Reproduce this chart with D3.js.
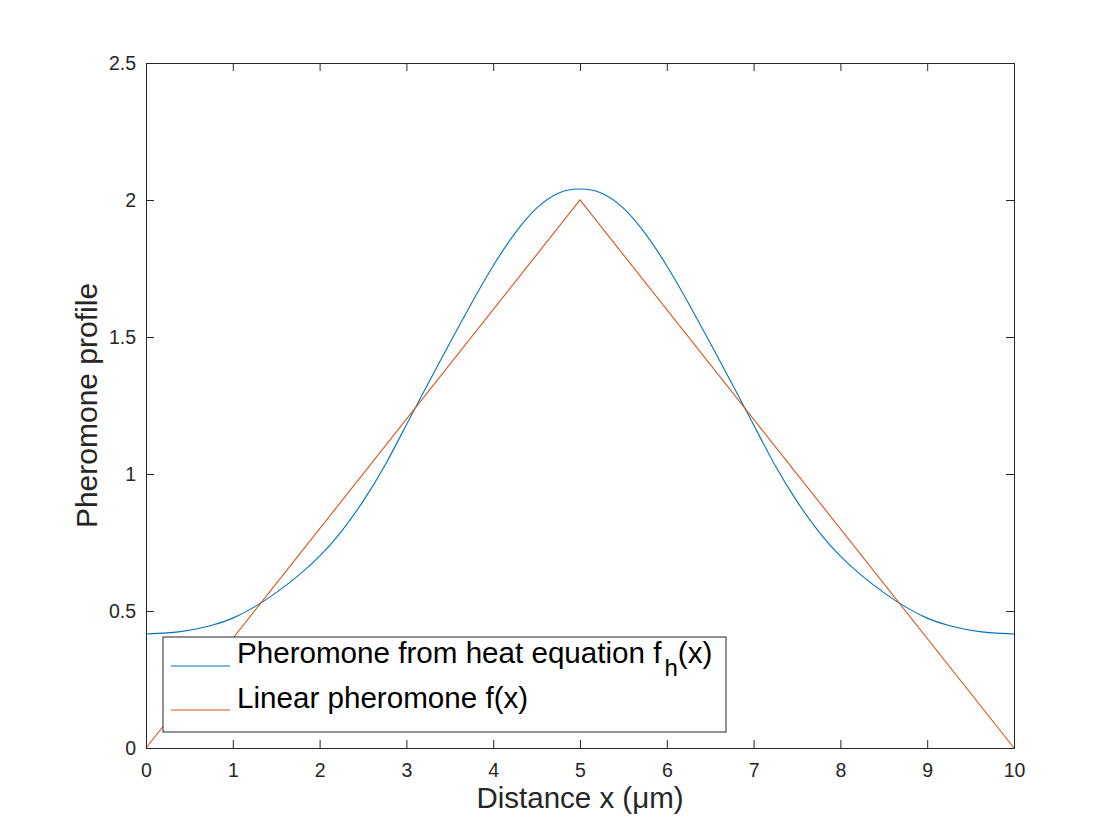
<!DOCTYPE html>
<html lang="en">
<head>
<meta charset="UTF-8">
<title>Pheromone profile</title>
<style>
  body { margin: 0; background: #fff; }
  svg { display: block; font-family: "Liberation Sans", Arial, Helvetica, sans-serif; }
  .axis path, .axis line { stroke: #262626; stroke-width: 1; }
  .axis text { fill: #262626; font-size: 19.5px; font-family: "Liberation Sans", Arial, sans-serif; }
</style>
</head>
<body>
<script src="https://cdn.jsdelivr.net/npm/d3@7"></script>
<script>
// values
var heatX = [0, 0.25, 0.5, 0.75, 1, 1.25, 1.5, 1.75, 2, 2.25, 2.5, 2.75, 3, 3.25, 3.5, 3.75, 4, 4.25, 4.5, 4.75, 5,
             5.25, 5.5, 5.75, 6, 6.25, 6.5, 6.75, 7, 7.25, 7.5, 7.75, 8, 8.25, 8.5, 8.75, 9, 9.25, 9.5, 9.75, 10];
var heatY = [0.416, 0.420, 0.430, 0.447, 0.474, 0.515, 0.567, 0.628, 0.700, 0.790, 0.900, 1.030, 1.180, 1.330, 1.478, 1.623, 1.760, 1.878, 1.970, 2.025, 2.040,
             2.025, 1.970, 1.878, 1.760, 1.623, 1.478, 1.330, 1.180, 1.030, 0.900, 0.790, 0.700, 0.628, 0.567, 0.515, 0.474, 0.447, 0.430, 0.420, 0.416];
var linearX = [0, 5, 10];
var linearY = [0, 2, 0];
var xTicks = [0, 1, 2, 3, 4, 5, 6, 7, 8, 9, 10];
var yTicks = [0, 0.5, 1, 1.5, 2, 2.5];

var width = 1120, height = 840,
    plotLeft = 146, plotRight = 1014, plotTop = 63, plotBottom = 748;

var svg = d3.select('body').append('svg')
    .attr('width', width)
    .attr('height', height);

var x = d3.scaleLinear().domain([0, 10]).range([plotLeft, plotRight]);
var y = d3.scaleLinear().domain([0, 2.5]).range([plotBottom, plotTop]);

var line = d3.line()
    .x(function(d) { return x(d[0]); })
    .y(function(d) { return y(d[1]); });

var heat = heatX.map(function(v, i) { return [v, heatY[i]]; });
var linear = linearX.map(function(v, i) { return [v, linearY[i]]; });

svg.append('path')
    .attr('d', line.curve(d3.curveNatural)(heat))
    .attr('fill', 'none')
    .attr('stroke', '#0072BD')
    .attr('stroke-width', 1.1);

svg.append('path')
    .attr('d', line.curve(d3.curveLinear)(linear))
    .attr('fill', 'none')
    .attr('stroke', '#D95319')
    .attr('stroke-width', 1.1);

// axes, ticks point inward on all four sides
svg.append('g').attr('class', 'axis')
    .attr('transform', 'translate(0,' + plotBottom + ')')
    .call(d3.axisBottom(x).tickValues(xTicks).tickSizeInner(-8).tickSizeOuter(0))
    .selectAll('text').attr('y', 29).attr('dy', 0);

svg.append('g').attr('class', 'axis')
    .attr('transform', 'translate(0,' + plotTop + ')')
    .call(d3.axisTop(x).tickValues(xTicks).tickSizeInner(-8).tickSizeOuter(0).tickFormat(''));

svg.append('g').attr('class', 'axis')
    .attr('transform', 'translate(' + plotLeft + ',0)')
    .call(d3.axisLeft(y).tickValues(yTicks).tickSizeInner(-8).tickSizeOuter(0).tickPadding(10)
      .tickFormat(function(d) { return String(d); }));

svg.append('g').attr('class', 'axis')
    .attr('transform', 'translate(' + plotRight + ',0)')
    .call(d3.axisRight(y).tickValues(yTicks).tickSizeInner(-8).tickSizeOuter(0).tickFormat(''));

svg.selectAll('.axis .domain').attr('fill', 'none');

// labels
svg.append('text')
    .attr('x', (plotLeft + plotRight) / 2)
    .attr('y', 808)
    .attr('text-anchor', 'middle')
    .attr('font-size', 29.5)
    .attr('fill', '#262626')
    .text('Distance x (μm)');

svg.append('text')
    .attr('transform', 'translate(97,' + ((plotTop + plotBottom) / 2) + ') rotate(-90)')
    .attr('text-anchor', 'middle')
    .attr('font-size', 30)
    .attr('fill', '#262626')
    .text('Pheromone profile');

// legend
var legend = svg.append('g');
legend.append('rect')
    .attr('x', 163).attr('y', 637)
    .attr('width', 563).attr('height', 95)
    .attr('fill', '#fff')
    .attr('stroke', '#262626')
    .attr('stroke-width', 1);

legend.append('line')
    .attr('x1', 171).attr('x2', 230).attr('y1', 666).attr('y2', 666)
    .attr('stroke', '#0072BD').attr('stroke-width', 1.1);
legend.append('line')
    .attr('x1', 171).attr('x2', 230).attr('y1', 710).attr('y2', 710)
    .attr('stroke', '#D95319').attr('stroke-width', 1.1);

var t1 = legend.append('text')
    .attr('x', 237).attr('y', 663)
    .attr('font-size', 29.6)
    .attr('fill', '#000');
t1.append('tspan').text('Pheromone from heat equation f');
t1.append('tspan').attr('font-size', 24).attr('dx', 3).attr('dy', 13).text('h');
t1.append('tspan').attr('dy', -13).text('(x)');

legend.append('text')
    .attr('x', 237).attr('y', 708)
    .attr('font-size', 29.6)
    .attr('fill', '#000')
    .text('Linear pheromone f(x)');
</script>
</body>
</html>
